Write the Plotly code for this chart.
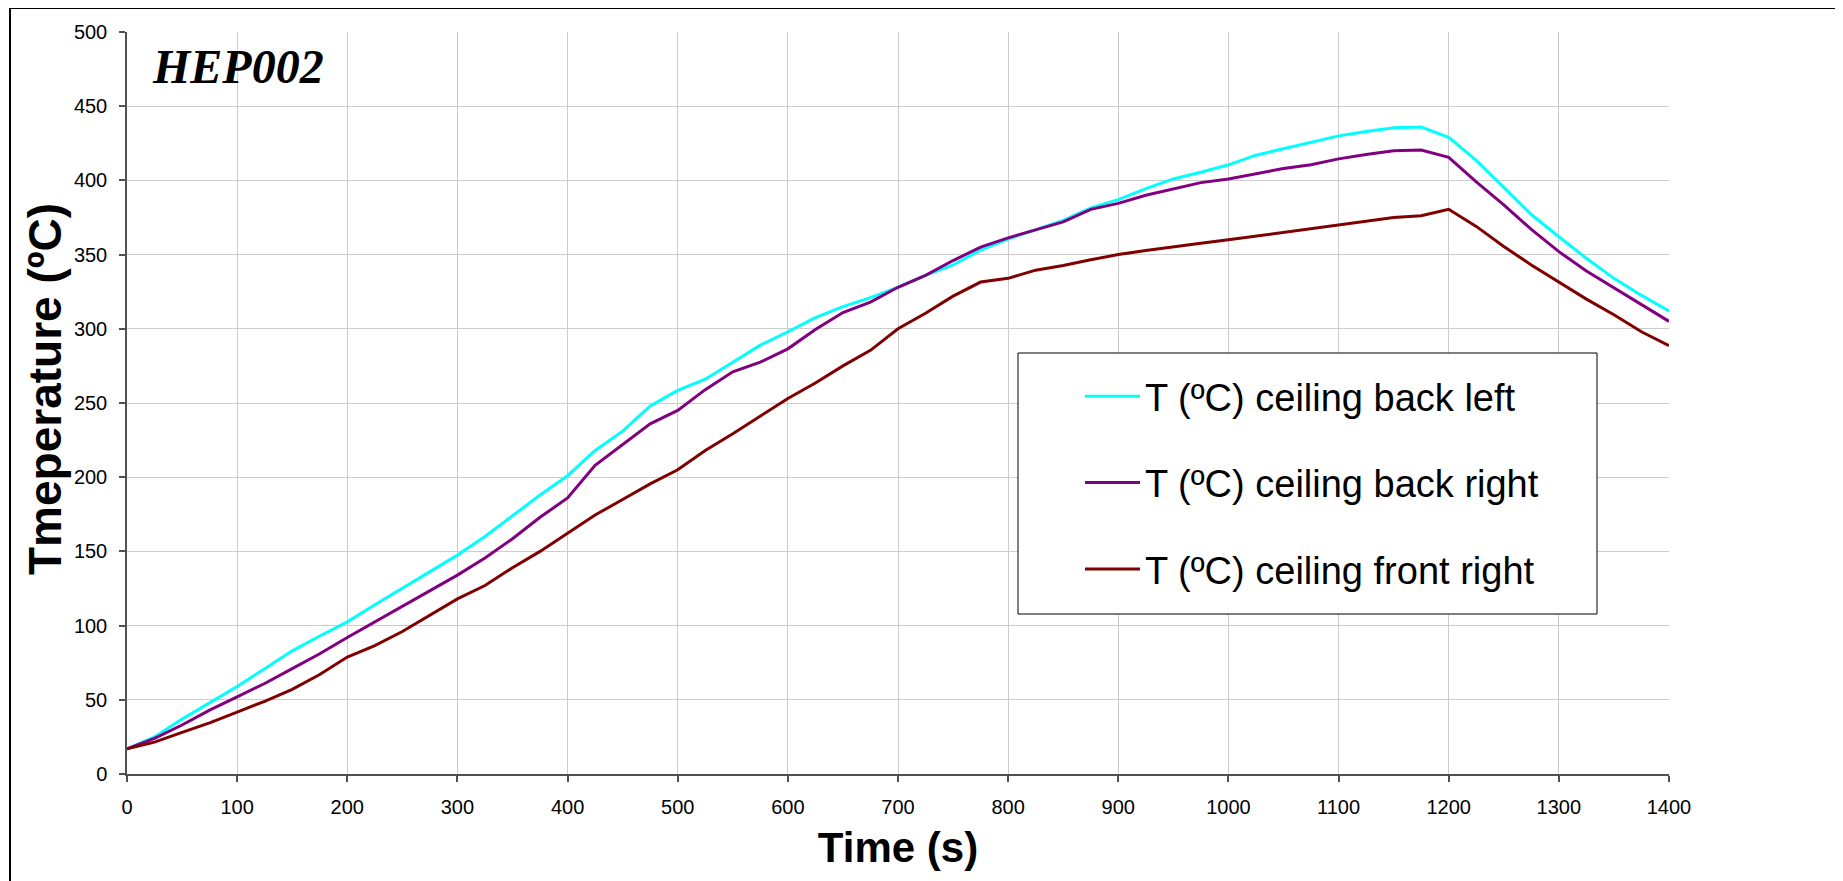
import plotly.graph_objects as go

# ---- data ----
time_s = list(range(0, 1401, 25))

t_back_left = [17, 25, 37, 48, 59, 71, 83, 93, 102.5, 114,
               125, 136, 147.5, 160, 174, 188, 201, 218, 231, 248,
               258.5, 266, 277.5, 289, 298, 307.5, 315, 321, 328, 336,
               343, 353, 360.5, 366.5, 373, 381.5, 387, 394.5, 401, 405.5,
               410.5, 417, 421.5, 426, 430, 433, 435.5, 436, 429, 413.5,
               395, 377, 362, 347.5, 334, 322.5, 312]

t_back_right = [17, 24, 33, 43, 52, 61, 71, 81, 92, 102.5,
                113, 123, 134, 145.5, 158.5, 173, 186, 208, 222, 236,
                245, 259, 271, 277.5, 286.5, 299.5, 311, 318, 328, 336,
                346, 355, 361.3, 366.5, 372, 380.5, 384.5, 390, 394.5, 398.5,
                401, 404.5, 408, 410.5, 414.5, 417.5, 420, 420.5, 415.5, 399,
                383.5, 367, 352, 339, 327.5, 316, 305]

t_front_right = [17, 21.5, 28, 34.5, 41.7, 49, 57, 67, 78.8, 86.5,
                 96, 107, 118, 127, 139, 150, 162, 174.5, 185, 195.5,
                 205, 218, 229.3, 241, 253, 263.5, 275, 285.5, 300, 310.5,
                 322, 331.5, 334, 339.5, 342.7, 346.5, 350, 352.8, 355.5, 357.7,
                 360, 362.5, 364.7, 367.2, 369.7, 372.5, 375, 376.2, 380.5, 369,
                 355.5, 343, 331.4, 320, 309.5, 298, 288.7]

series_names = ["T (ºC) ceiling back left",
                "T (ºC) ceiling back right",
                "T (ºC) ceiling front right"]
series_colors = ["#00FFFF", "#800080", "#800000"]

x_ticks = list(range(0, 1401, 100))
y_ticks = list(range(0, 501, 50))

# ---- layout geometry (page pixels; the page body adds an 8px offset) ----
OFF = 8
W, H = 1843 - OFF, 881 - OFF
L, R, T, B = 127 - OFF, 1669 - OFF, 32 - OFF, 774 - OFF


def px(xp):
    return (xp - OFF - L) / (R - L)


def py(yp):
    return (B - (yp - OFF)) / (B - T)


fig = go.Figure()
for name, vals, col in zip(series_names,
                           [t_back_left, t_back_right, t_front_right],
                           series_colors):
    fig.add_trace(go.Scatter(x=time_s, y=vals, mode="lines", name=name,
                             legendgroup=name,
                             line=dict(color=col, width=3)))

axis_common = dict(
    showgrid=True, gridcolor="#cccccc", gridwidth=1,
    showline=True, linecolor="#505050", linewidth=1.5,
    ticks="outside", ticklen=6, tickcolor="#505050", tickwidth=1.5,
    tickfont=dict(family="Liberation Sans, Arial, sans-serif", size=20, color="black"),
    zeroline=False, automargin=False,
)

fig.update_xaxes(range=[0, 1400], tickvals=x_ticks, ticklabelstandoff=8,
                 title=dict(text="<b>Time (s)</b>", standoff=16,
                            font=dict(family="Liberation Sans, Arial, sans-serif",
                                      size=42, color="black")),
                 **axis_common)
fig.update_yaxes(range=[0, 500], tickvals=y_ticks, ticklabelstandoff=8,
                 **axis_common)

fig.update_layout(
    width=W, height=H,
    margin=dict(l=L, r=W - R, t=T, b=H - B),
    paper_bgcolor="white", plot_bgcolor="white",
    showlegend=True,
    legend=dict(x=px(1080), y=py(365), xanchor="left", yanchor="top",
                bgcolor="rgba(0,0,0,0)", borderwidth=0,
                tracegroupgap=34, itemwidth=55,
                font=dict(family="Liberation Sans, Arial, sans-serif",
                          size=38, color="black")),
    shapes=[
        # legend box
        dict(type="rect", xref="paper", yref="paper",
             x0=px(1018), x1=px(1597), y0=py(614), y1=py(353),
             line=dict(color="black", width=1), fillcolor="white", layer="above"),
        # outer frame (top and left edges visible)
        dict(type="line", xref="paper", yref="paper",
             x0=px(10), x1=px(2000), y0=py(8), y1=py(8),
             line=dict(color="black", width=2)),
        dict(type="line", xref="paper", yref="paper",
             x0=px(10), x1=px(10), y0=py(8), y1=py(1000),
             line=dict(color="black", width=2)),
    ],
    annotations=[
        dict(text="<b><i>HEP002</i></b>", xref="paper", yref="paper",
             x=px(150), y=py(67), xanchor="left", yanchor="middle", showarrow=False,
             font=dict(family="Liberation Serif, Times New Roman, serif", size=48, color="black")),
        dict(text="<b>Tmeperature (ºC)</b>", xref="paper", yref="paper",
             x=px(45), y=py(389), xanchor="center", yanchor="middle", showarrow=False,
             textangle=-90,
             font=dict(family="Liberation Sans, Arial, sans-serif", size=46, color="black")),
    ],
)

fig.write_html("out.html")
